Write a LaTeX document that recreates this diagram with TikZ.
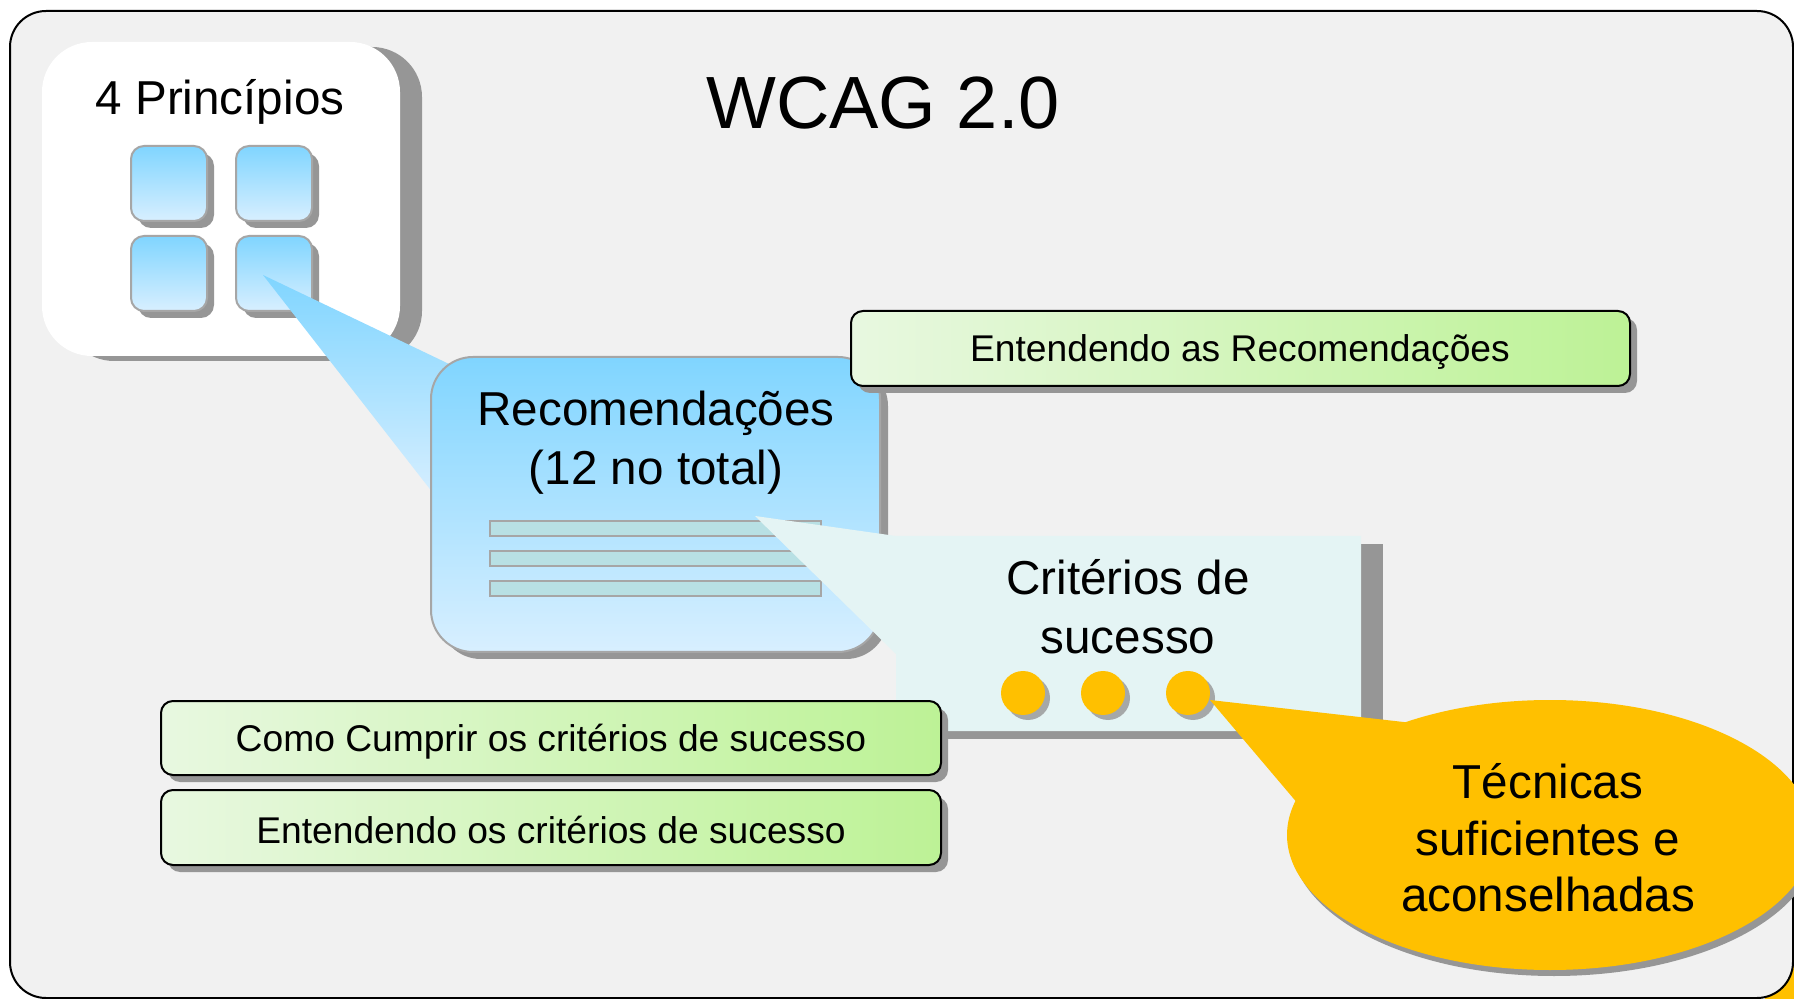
\documentclass[tikz,border=0pt]{standalone}
\usepackage{fontspec}
\setmainfont{Liberation Sans}
\usepackage{tikz}
\usepackage{xcolor}

\definecolor{framefill}{HTML}{F1F1F1}
\definecolor{shadowgray}{HTML}{969696}
\definecolor{edgegray}{HTML}{A6A6A6}
\definecolor{bluetop}{HTML}{80D5FF}
\definecolor{bluebot}{HTML}{D8EFFF}
\definecolor{linefill}{HTML}{B8E0E4}
\definecolor{cyanfill}{HTML}{E4F4F4}
\definecolor{greenleft}{HTML}{E8F8E0}
\definecolor{greenright}{HTML}{BDF296}
\definecolor{dotorange}{HTML}{FFC000}

\begin{document}
\begin{tikzpicture}[x=0.5pt,y=0.5pt,yscale=-1,xscale=1,
    dropfill/.style={fill=shadowgray},
    bluegrad/.style={top color=bluetop, bottom color=bluebot, draw=edgegray, line width=1pt},
    linebar/.style={fill=linefill, draw=edgegray, line width=0.8pt},
    greenbar/.style={left color=greenleft, right color=greenright, draw=black, line width=1pt, rounded corners=6pt},
    biglabel/.style={inner sep=0pt, align=center, font=\fontsize{23.8}{29.5}\selectfont},
    barlabel/.style={inner sep=0pt, font=\fontsize{18.6}{22}\selectfont}]
    \useasboundingbox (0,0) rectangle (1794,999);

    %Shape: Corner
    \fill [dotorange] (1765,965) rectangle (1794,999);
    %Shape: Rounded Rect
    \draw [fill=framefill, line width=1pt, rounded corners=18pt] (10,11) rectangle (1793,998);

    %Shape: Rounded Rect
    \fill [dropfill, rounded corners=25pt] (64,47) rectangle (422,361);
    \fill [white, rounded corners=25pt] (42,42) rectangle (400,356);
    %Shape: Rounded Rect
    \foreach \sx/\sy in {131/146, 236/146, 131/236, 236/236}{
        \fill [dropfill, rounded corners=6.5pt] (\sx+7,\sy+7) rectangle ++(76,75);
        \draw [bluegrad, rounded corners=6.5pt] (\sx,\sy) rectangle ++(76,75);
    }

    %Shape: Polygon
    \path [top color=bluetop, bottom color=bluebot] (263,275) -- (470,374) -- (440,502) -- cycle;
    %Shape: Rounded Rect
    \fill [dropfill, rounded corners=21pt] (439,364) rectangle (888,659);
    \draw [bluegrad, rounded corners=21pt] (431,357) rectangle (880,652);
    %Shape: Rectangle
    \foreach \ly in {521,551,581}
        \draw [linebar] (490,\ly) rectangle (821,\ly+15);

    %Shape: Rounded Rect
    \fill [dropfill, rounded corners=6pt] (858,318) rectangle (1637,393);
    \draw [greenbar] (851,311) rectangle (1630,386);

    %Shape: Polygon
    \fill [dropfill] (918,544) rectangle (1383,739);
    \fill [cyanfill] (755,516) -- (896,536) -- (1361,536) -- (1361,731) -- (896,731) -- (896,654) -- cycle;
    %Shape: Circle
    \foreach \dx in {1023,1103,1188}{
        \fill [dropfill, opacity=0.8] (\dx+5,698) circle [radius=22];
        \fill [dotorange] (\dx,693) circle [radius=22];
    }

    %Shape: Rounded Rect
    \fill [dropfill, rounded corners=6pt] (168,708) rectangle (948,782);
    \draw [greenbar] (161,701) rectangle (941,775);
    \fill [dropfill, rounded corners=6pt] (168,797) rectangle (948,872);
    \draw [greenbar] (161,790) rectangle (941,865);

    %Shape: Ellipse
    \fill [dropfill] (1554,841) ellipse [x radius=263, y radius=135];
    \fill [dotorange] (1210,700) -- (1430,725) -- (1310,818) -- cycle;
    \fill [dotorange] (1550,835) ellipse [x radius=263, y radius=135];

    % Text Node
    \draw (883,103) node (title) [inner sep=0pt] {\fontsize{37}{44}\selectfont WCAG 2.0};
    % Text Node
    \draw (220,102) node (principios) [biglabel] {4 Princípios};
    % Text Node
    \draw (656,443) node (recom) [biglabel] {Recomendações\\(12 no total)};
    % Text Node
    \draw (1128,607) node (criterios) [biglabel] {Critérios de\\sucesso};
    % Text Node
    \draw (1548,838) node (tecnicas) [biglabel, font=\fontsize{23.8}{28.3}\selectfont] {Técnicas\\suficientes e\\aconselhadas};
    % Text Node
    \draw (1240,352) node (entrecom) [barlabel] {Entendendo as Recomendações};
    % Text Node
    \draw (551,742) node (cumprir) [barlabel] {Como Cumprir os critérios de sucesso};
    % Text Node
    \draw (551,830) node (entcrit) [barlabel] {Entendendo os critérios de sucesso};

\end{tikzpicture}
\end{document}
